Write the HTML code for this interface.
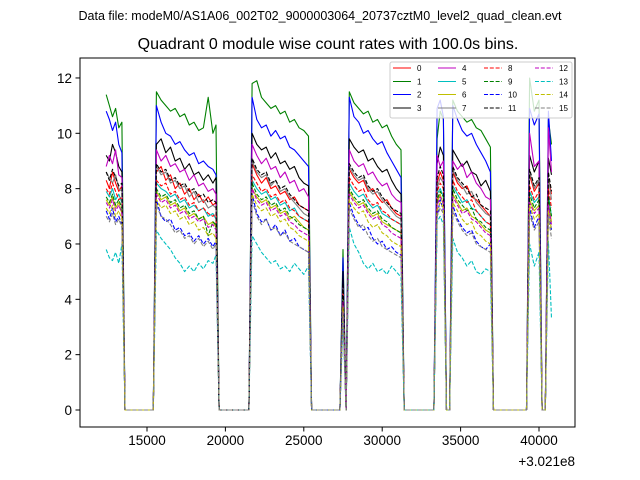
<!DOCTYPE html>
<html><head><meta charset="utf-8"><style>
html,body{margin:0;padding:0;background:#fff;}
svg{display:block;font-family:"Liberation Sans","DejaVu Sans",sans-serif;}
</style></head><body>
<svg id="chart" width="640" height="480" viewBox="0 0 640 480">
<rect x="0" y="0" width="640" height="480" fill="#fff"/>
<text x="320" y="20" text-anchor="middle" font-size="12.5">Data file: modeM0/AS1A06_002T02_9000003064_20737cztM0_level2_quad_clean.evt</text>
<text x="328" y="49" text-anchor="middle" font-size="16">Quadrant 0 module wise count rates with 100.0s bins.</text>
<g id="plot"></g>
<g id="axes"></g>
<g id="legend"></g>
</svg>
<script>
const times=[12400,12600,12800,13000,13200,13400,13600,15400,
15600,15900,16200,16500,16800,17100,17400,17700,18000,18300,18600,18900,19200,19400,19600,21500,
21700,22000,22300,22600,22900,23200,23500,23800,24100,24400,24700,25000,25300,25500,27300,27500,27700,
27900,28200,28500,28800,29100,29400,29700,30000,30300,30600,30900,31200,31400,33300,
33500,33700,33900,34100,34300,
34500,34800,35100,35400,35700,36000,36300,36600,36900,37100,39200,
39400,39700,40000,40200,40400,40600,40800];
const s0=[8.3,8.0,8.6,8.2,7.9,8.1,0,0,8.6,8.8,8.3,8.5,8.0,8.2,7.8,8.0,7.6,7.8,7.5,7.7,7.4,7.5,0,0,8.9,8.5,8.2,8.4,8.0,8.1,7.8,7.9,7.6,7.7,7.4,7.3,7.2,0,0,4.6,0,8.7,8.4,8.2,8.3,7.9,8.0,7.7,7.5,7.6,7.3,7.1,7.0,0,0,8.2,8.6,8.3,0,0,8.6,8.2,8.0,8.1,7.7,7.6,7.4,7.2,7.0,0,0,8.5,7.9,8.2,0,0,8.4,7.8];
const s1=[11.4,11.0,10.6,10.9,10.2,10.4,0,0,11.5,11.2,11.0,10.8,10.9,10.6,10.7,10.3,10.4,10.1,10.2,11.3,10.0,10.3,0,0,11.8,11.9,11.3,11.1,10.9,11.0,10.7,10.8,10.4,10.5,10.2,10.1,9.9,0,0,5.8,0,11.5,11.1,10.9,10.7,10.8,10.4,10.5,10.2,10.3,9.9,9.6,9.4,0,0,9.8,10.8,10.5,0,0,11.2,10.8,10.6,10.4,10.5,10.2,10.1,9.8,9.5,0,0,12.0,10.8,11.2,0,0,10.5,9.6];
const s2=[10.8,10.5,10.1,10.4,9.6,9.3,0,0,11.0,10.4,10.0,9.9,9.6,9.7,9.4,9.2,9.3,8.9,9.0,8.8,8.7,8.5,0,0,11.3,10.5,10.2,10.3,9.9,10.1,9.8,9.9,9.5,9.4,9.2,9.0,8.8,0,0,5.5,0,11.3,10.6,10.4,10.0,10.1,9.8,9.6,9.7,9.3,9.0,8.7,8.4,0,0,10.9,11.2,10.6,0,0,11.0,10.5,10.1,9.9,10.0,9.6,9.3,9.0,8.6,0,0,10.9,10.3,10.7,0,0,10.8,9.0];
const s3=[9.2,9.0,9.6,9.3,8.8,8.6,0,0,9.6,9.8,9.3,9.5,9.0,9.1,8.7,8.9,8.5,8.6,8.3,8.5,8.2,8.4,0,0,10.0,9.6,9.4,9.5,9.1,9.3,8.9,9.0,8.7,8.8,8.4,8.2,8.1,0,0,5.0,0,9.8,9.5,9.3,9.4,9.0,9.1,8.8,8.6,8.7,8.3,8.0,7.8,0,0,8.9,9.5,9.2,0,0,9.4,9.1,8.8,9.0,8.6,8.5,8.1,8.3,7.9,0,0,9.2,8.6,9.0,0,0,9.1,8.5];
const s4=[8.8,9.2,8.9,9.4,8.5,8.4,0,0,9.4,9.0,9.2,8.8,8.9,8.6,8.7,8.3,8.5,8.1,8.2,7.9,8.0,7.8,0,0,9.6,9.2,8.9,9.1,8.7,8.8,8.4,8.6,8.2,8.3,7.9,8.0,7.7,0,0,4.5,0,9.4,9.0,8.8,8.9,8.5,8.6,8.3,8.1,8.2,7.8,7.6,7.5,0,0,9.2,8.8,9.0,0,0,9.0,8.7,8.9,8.4,8.6,8.2,8.0,7.7,7.6,0,0,10.0,8.8,9.0,0,0,10.2,8.6];
const s5=[7.9,7.7,8.0,7.6,7.8,7.5,0,0,8.2,8.0,7.9,7.7,7.8,7.5,7.6,7.3,7.4,7.2,7.3,7.0,7.1,6.9,0,0,8.3,8.0,7.8,7.9,7.6,7.7,7.4,7.5,7.2,7.3,7.0,6.9,6.8,0,0,4.0,0,8.2,7.9,7.7,7.8,7.5,7.3,7.4,7.1,7.0,6.9,6.8,6.7,0,0,7.8,8.0,7.7,0,0,8.1,7.8,7.5,7.6,7.3,7.2,7.0,6.8,6.7,0,0,7.9,7.5,7.7,0,0,7.8,7.0];
const s6=[7.6,7.4,7.7,7.3,7.5,7.1,0,0,7.9,7.6,7.7,7.4,7.5,7.2,7.3,7.0,7.1,6.9,7.0,6.7,6.8,6.6,0,0,8.0,7.7,7.5,7.6,7.3,7.4,7.1,7.2,6.9,7.0,6.8,6.6,6.5,0,0,3.8,0,7.9,7.6,7.4,7.5,7.2,7.0,7.1,6.8,6.7,6.6,6.5,6.4,0,0,7.5,7.8,7.4,0,0,7.8,7.5,7.2,7.3,7.0,6.9,6.7,6.5,6.4,0,0,7.6,7.2,7.4,0,0,7.5,6.8];
const s7=[8.6,8.4,8.2,8.5,8.0,7.9,0,0,8.8,8.5,8.6,8.2,8.3,8.0,8.1,7.7,7.9,7.5,7.6,7.3,7.4,7.3,0,0,9.0,8.6,8.4,8.5,8.1,8.3,7.9,8.0,7.7,7.5,7.3,7.1,7.0,0,0,4.4,0,8.8,8.5,8.3,8.4,8.0,7.8,7.9,7.6,7.4,7.2,7.0,6.9,0,0,8.0,8.4,8.2,0,0,8.7,8.3,8.1,7.8,7.9,7.5,7.3,7.1,7.0,0,0,8.6,8.0,8.3,0,0,8.4,7.6];
const s8=[8.0,7.8,8.2,7.9,7.6,7.7,0,0,8.3,8.1,8.2,7.8,7.9,7.6,7.7,7.4,7.5,7.2,7.3,7.1,7.0,7.1,0,0,8.5,8.2,7.9,8.0,7.7,7.8,7.5,7.6,7.3,7.2,7.0,6.9,6.8,0,0,4.2,0,8.4,8.1,7.9,8.0,7.6,7.4,7.5,7.2,7.1,6.9,6.8,6.7,0,0,7.9,8.2,8.0,0,0,8.3,7.9,7.7,7.5,7.6,7.2,7.0,6.8,6.7,0,0,8.1,7.6,7.9,0,0,8.0,7.3];
const s9=[7.7,7.5,7.8,7.4,7.6,7.3,0,0,8.0,7.7,7.8,7.5,7.6,7.3,7.4,7.1,7.2,6.9,7.0,6.3,6.8,6.7,0,0,8.2,7.8,7.6,7.7,7.4,7.5,7.2,7.3,7.0,6.9,6.7,6.6,6.5,0,0,4.0,0,8.0,7.7,7.5,7.6,7.3,7.1,7.2,6.9,6.8,6.6,6.5,6.4,0,0,7.6,7.9,7.7,0,0,8.0,7.6,7.4,7.2,7.3,6.9,6.8,6.6,6.5,0,0,7.8,7.3,7.6,0,0,7.7,7.0];
const s10=[7.2,6.9,7.3,6.8,7.0,6.7,0,0,7.6,7.0,6.8,6.9,6.5,6.6,6.3,6.4,6.1,6.3,6.0,6.2,5.9,6.1,0,0,7.8,7.1,6.8,6.9,6.5,6.7,6.3,6.5,6.1,6.2,5.9,5.8,5.7,0,0,3.6,0,7.5,7.0,6.7,6.5,6.6,6.2,6.0,6.1,5.8,5.9,5.7,5.6,0,0,7.0,7.6,7.2,0,0,7.4,6.9,6.6,6.4,6.5,6.1,5.9,5.8,6.0,0,0,7.3,6.6,7.0,0,0,7.4,6.5];
const s11=[8.6,8.3,8.7,8.4,8.1,8.2,0,0,8.9,8.6,8.7,8.3,8.4,8.1,8.2,7.9,8.0,7.7,7.8,7.5,7.6,7.5,0,0,9.1,8.7,8.5,8.6,8.2,8.3,8.0,8.1,7.8,7.6,7.4,7.3,7.2,0,0,4.8,0,8.9,8.6,8.4,8.5,8.1,7.9,8.0,7.7,7.5,7.3,7.2,7.1,0,0,8.4,8.8,8.5,0,0,8.8,8.4,8.2,8.0,7.7,7.8,7.4,7.3,7.2,0,0,8.7,8.1,8.4,0,0,8.6,7.9];
const s12=[7.5,7.3,7.6,7.2,7.4,7.1,0,0,7.8,7.5,7.6,7.3,7.4,7.1,7.2,6.9,7.0,6.8,6.9,6.6,6.7,6.5,0,0,8.0,7.6,7.4,7.5,7.2,7.3,7.0,7.1,6.8,6.7,6.5,6.4,6.3,0,0,3.9,0,7.8,7.5,7.3,7.4,7.1,6.9,7.0,6.7,6.6,6.4,6.3,6.2,0,0,7.4,7.7,7.5,0,0,7.7,7.4,7.1,7.2,6.9,6.8,6.6,6.4,6.3,0,0,7.5,7.1,7.3,0,0,7.4,6.7];
const s13=[5.8,5.5,5.4,5.7,5.3,6.0,0,0,6.5,6.2,6.0,5.8,5.5,5.3,5.0,5.2,5.0,5.3,5.1,5.4,5.3,5.6,0,0,6.3,6.0,5.7,5.5,5.3,5.4,5.1,5.2,5.0,5.3,5.1,4.9,5.2,0,0,3.2,0,6.6,6.0,5.7,5.3,5.1,5.3,5.0,5.1,4.9,5.2,5.0,4.8,0,0,6.8,7.0,6.7,0,0,6.2,5.7,5.5,5.2,5.4,5.0,4.9,5.1,5.0,0,0,6.0,5.2,5.7,0,0,6.1,3.3];
const s14=[7.3,7.1,7.4,7.0,7.2,6.9,0,0,7.6,7.3,7.4,7.1,7.2,6.9,7.0,6.7,6.8,6.5,6.6,6.3,6.4,6.2,0,0,7.8,7.4,7.2,7.3,7.0,7.1,6.8,6.9,6.6,6.5,6.3,6.2,6.1,0,0,3.7,0,7.6,7.3,7.1,7.2,6.8,6.6,6.7,6.4,6.3,6.1,6.0,5.9,0,0,7.2,7.5,7.3,0,0,7.5,7.2,6.9,6.7,6.8,6.4,6.3,6.1,6.0,0,0,7.4,6.9,7.1,0,0,7.2,6.5];
const s15=[7.0,6.8,7.1,6.7,6.9,6.6,0,0,7.4,7.0,6.9,6.7,6.4,6.5,6.2,6.3,6.0,6.2,5.9,6.1,5.8,6.0,0,0,7.6,7.0,6.7,6.9,6.5,6.6,6.3,6.4,6.1,6.0,5.9,5.8,5.7,0,0,3.5,0,7.3,6.9,6.6,6.7,6.3,6.1,6.2,5.9,5.8,5.7,5.6,5.5,0,0,7.0,7.3,7.1,0,0,7.2,6.8,6.5,6.3,6.4,6.0,5.9,5.8,5.7,0,0,7.1,6.5,6.8,0,0,7.0,6.2];
const seriesValues=[s0,s1,s2,s3,s4,s5,s6,s7,s8,s9,s10,s11,s12,s13,s14,s15];
const seriesLabels=["0","1","2","3","4","5","6","7","8","9","10","11","12","13","14","15"];
const xTicks=[15000,20000,25000,30000,35000,40000];
const xTickLabels=["15000","20000","25000","30000","35000","40000"];
const yTicks=[0,2,4,6,8,10,12];
const yTickLabels=["0","2","4","6","8","10","12"];

const NS="http://www.w3.org/2000/svg";
const L=80,R=575,T=58,B=427;
function xs(t){return 147+(t-15000)*0.01568;}
function ys(v){return 410-v*27.67;}
const colors=["#ff0000","#008000","#0000ff","#000000","#bf00bf","#00bfbf","#bfbf00","#808080"];
function mk(tag,attrs,parent){const e=document.createElementNS(NS,tag);for(const k in attrs)e.setAttribute(k,attrs[k]);parent.appendChild(e);return e;}
const plot=document.getElementById('plot');
const axes=document.getElementById('axes');
const legend=document.getElementById('legend');
const cp=mk('clipPath',{id:'clip'},plot);
mk('rect',{x:L,y:T,width:R-L,height:B-T},cp);
seriesValues.forEach((vals,i)=>{
  const d=vals.map((v,j)=>(j?'L':'M')+xs(times[j]).toFixed(1)+' '+ys(v).toFixed(1)).join(' ');
  const p=mk('path',{d:d,fill:'none',stroke:colors[i%8],'stroke-width':1.1,'stroke-linejoin':'round','clip-path':'url(#clip)'},plot);
  if(i>=8)p.setAttribute('stroke-dasharray','4 1.8');
  
  
});
const fr=mk('rect',{x:L,y:T,width:R-L,height:B-T,fill:'none',stroke:'#000','stroke-width':1},axes);


xTicks.forEach((t,i)=>{
  const x=xs(t);
  const tk=mk('line',{x1:x,x2:x,y1:B,y2:B+4.5,stroke:'#000','stroke-width':1},axes);
  
  
  const tx=mk('text',{x:x,y:B+18,'text-anchor':'middle','font-size':13.5},axes);
  tx.textContent=xTickLabels[i];
  
  
});
yTicks.forEach((v,i)=>{
  const y=ys(v);
  const tk=mk('line',{x1:L-4.5,x2:L,y1:y,y2:y,stroke:'#000','stroke-width':1},axes);
  
  
  const tx=mk('text',{x:L-8,y:y+5,'text-anchor':'end','font-size':13.5},axes);
  tx.textContent=yTickLabels[i];
  
  
});
const off=mk('text',{x:575,y:466,'text-anchor':'end','font-size':13.5},axes);
off.textContent='+3.021e8';


const lb=mk('rect',{x:390,y:62,width:182,height:56,rx:2,fill:'#fff','fill-opacity':0.8,stroke:'#ccc','stroke-width':1},legend);


const colX=[393,438,484,535];
const rowY=[68,81.5,94.5,108];
seriesLabels.forEach((lab,i)=>{
  const c=Math.floor(i/4),r=i%4;
  const g=mk('g',{},legend);
  
  
  const ln=mk('line',{x1:colX[c],x2:colX[c]+18,y1:rowY[r],y2:rowY[r],stroke:colors[i%8],'stroke-width':1.1},g);
  if(i>=8)ln.setAttribute('stroke-dasharray','4 1.8');
  const t=mk('text',{x:colX[c]+24,y:rowY[r]+3,'font-size':8},g);
  t.textContent=lab;
});
</script>
</body></html>
